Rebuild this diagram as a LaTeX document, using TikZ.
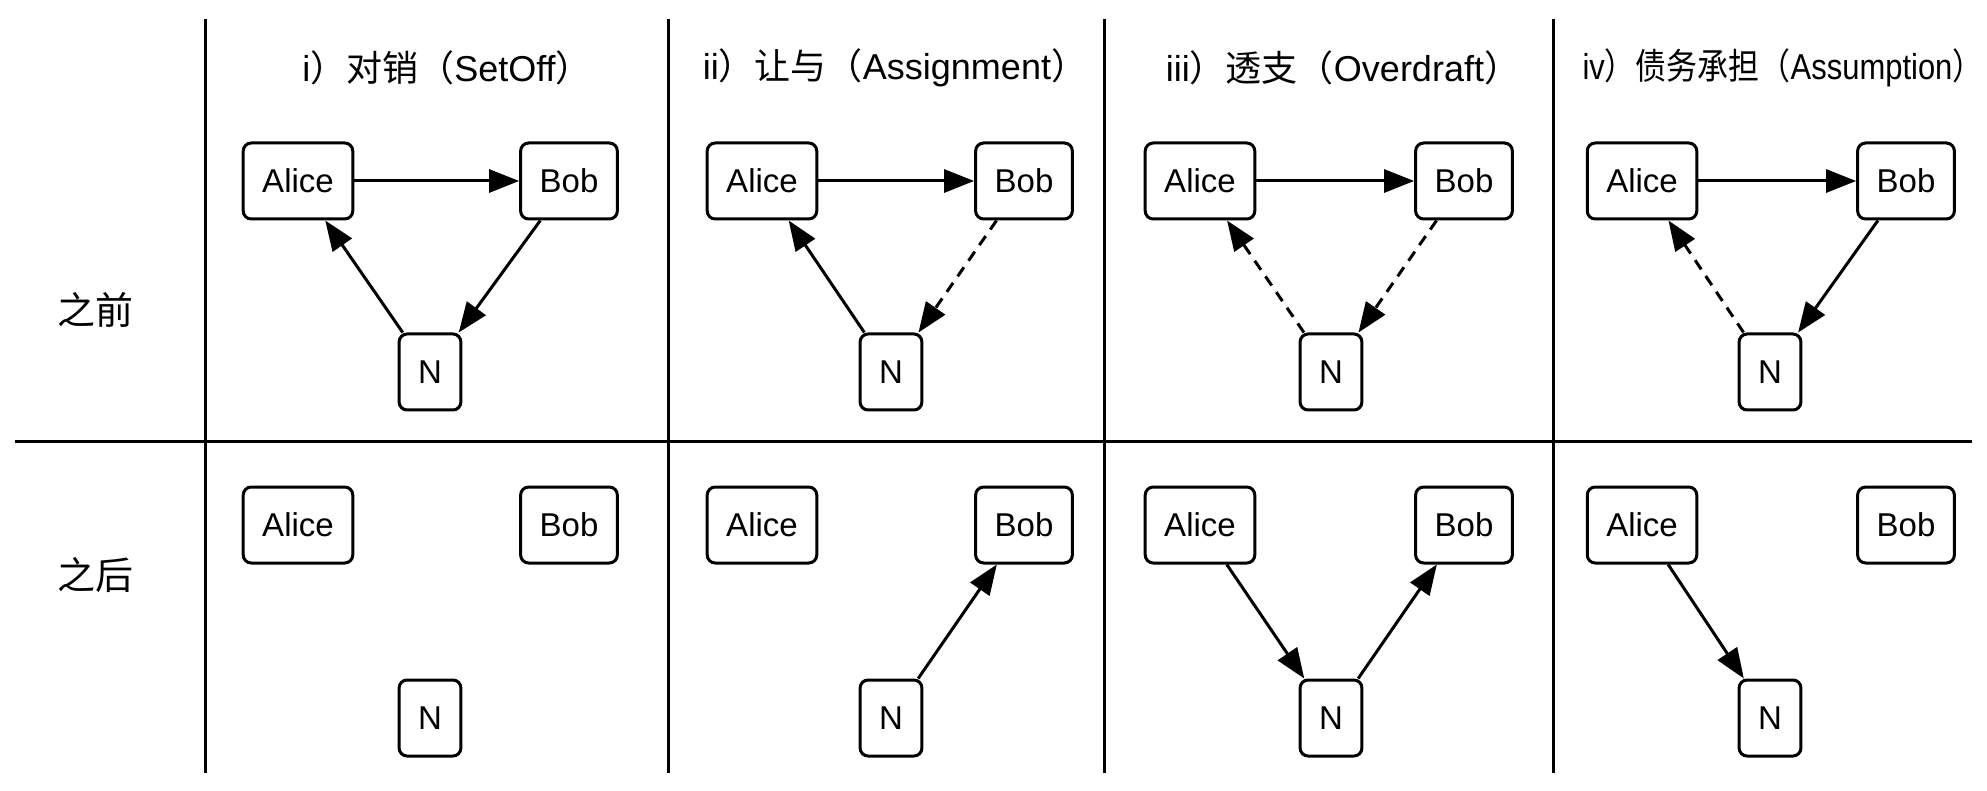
\documentclass[tikz,border=0pt]{standalone}
\usepackage{fontspec}
\setmainfont{Liberation Sans}
\newfontfamily\cjk{Noto Sans CJK SC}
\usetikzlibrary{arrows.meta}

\tikzset{
  party/.style={draw, rounded corners=8pt, line width=3pt, minimum height=76pt,
    minimum width=59pt, inner xsep=19pt, font=\fontsize{33}{40}\selectfont},
  pay/.style={line width=3pt, -{Triangle[length=30pt,width=23pt]}},
  owe/.style={pay, dash pattern=on 11pt off 8pt},
  heading/.style={font=\fontsize{36}{44}\selectfont},
  rowlabel/.style={font=\cjk\fontsize{38}{44}\selectfont}
}

\begin{document}
\begin{tikzpicture}[x=1pt,y=-1pt]
\useasboundingbox (0,0) rectangle (1987,791);

% Table rules
\draw[line width=3pt] (15,442) -- (1972,442);
\foreach \x in {205,668,1104,1553}
  \draw[line width=3pt] (\x,19) -- (\x,773);

% Row labels
\node[rowlabel] (before) at (95,310) {之前};
\node[rowlabel] (after) at (95,575) {之后};

% Column headings
\node[heading] (h1) at (447,68) {i{\cjk ）对销（}SetOff{\cjk ）}};
\node[heading] (h2) at (895,68) {ii{\cjk ）让与（}Assignment{\cjk ）}};
\node[heading] (h3) at (1343,68) {iii{\cjk ）透支（}Overdraft{\cjk ）}};
\node[heading] (h4) at (1783,68) {\scalebox{0.86}[1]{iv{\cjk ）债务承担（}Assumption{\cjk ）}}};

% Parties: before (top row) and after (bottom row)
\foreach \c/\ax/\bx/\nx in {1/298/569/430, 2/762/1024/891, 3/1200/1464/1331, 4/1642/1906/1770} {
  \node[party] (A\c) at (\ax,181) {Alice};
  \node[party] (B\c) at (\bx,181) {Bob};
  \node[party] (N\c) at (\nx,372) {N};
  \node[party] (postA\c) at (\ax,525) {Alice};
  \node[party] (postB\c) at (\bx,525) {Bob};
  \node[party] (postN\c) at (\nx,718) {N};
}

% i) set-off
\draw[pay] (A1) -- (B1);
\draw[pay] (B1) -- (N1);
\draw[pay] (N1) -- (A1);

% ii) assignment
\draw[pay] (A2) -- (B2);
\draw[owe] (B2) -- (N2);
\draw[pay] (N2) -- (A2);
\draw[pay] (postN2) -- (postB2);

% iii) overdraft
\draw[pay] (A3) -- (B3);
\draw[owe] (B3) -- (N3);
\draw[owe] (N3) -- (A3);
\draw[pay] (postA3) -- (postN3);
\draw[pay] (postN3) -- (postB3);

% iv) assumption
\draw[pay] (A4) -- (B4);
\draw[pay] (B4) -- (N4);
\draw[owe] (N4) -- (A4);
\draw[pay] (postA4) -- (postN4);

\end{tikzpicture}
\end{document}
